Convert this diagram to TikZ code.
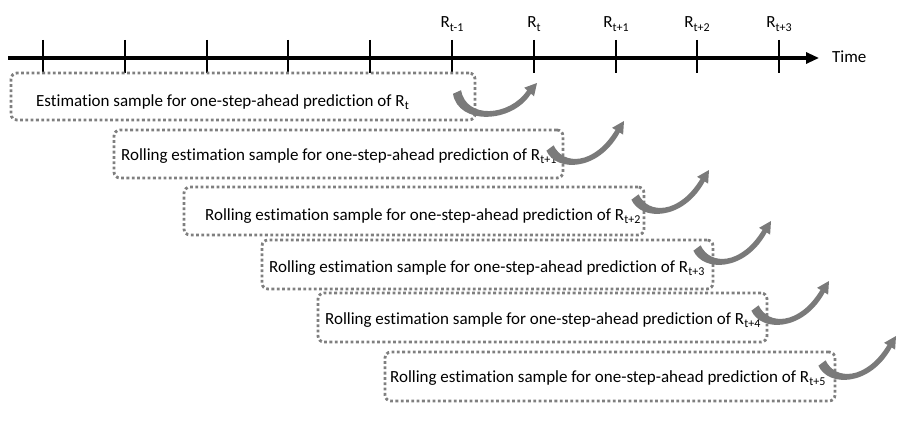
\documentclass[tikz,border=0pt]{standalone}
\usepackage{fontspec}
\setmainfont{Carlito}[Ligatures={NoCommon,NoContextual}]
\usetikzlibrary{arrows.meta}
\newcommand\subtxt[1]{\raisebox{-3.5pt}{\fontsize{12}{12}\selectfont #1}}
\definecolor{dotgray}{HTML}{7F7F7F}
\definecolor{arrgray}{HTML}{7A7A7A}
\begin{document}
\begin{tikzpicture}[x=1pt,y=-1pt,
  box/.style={draw=dotgray, line width=2.8pt, dash pattern=on 2.8pt off 2.5pt, rounded corners=6pt, inner sep=0pt},
  lbl/.style={font=\fontsize{17}{20}\selectfont, inner sep=0pt, anchor=base west},
  tickline/.style={line width=2pt},
  axisline/.style={line width=3pt, -{Triangle[length=13pt,width=11pt]}},
  rollarr/.pic={\fill[arrgray] (-3.6,-2.7) .. controls (6,-24) and (48,-24) .. (69.7,15.5) -- (73.1,13.4) -- (74,27) -- (62.1,20.2) -- (65.5,18.1) .. controls (44,-17.5) and (13,-17.5) .. (3.6,2.7) -- cycle;},
  firstarr/.pic={\fill[arrgray] (-4,-1.8) .. controls (1,-33) and (55,-32) .. (74,-1.65) -- (77,-4.3) -- (80,9) -- (67.2,4.3) -- (70.2,1.65) .. controls (52,-25) and (9,-27) .. (4,1.8) -- cycle;}]
\useasboundingbox (0,0) rectangle (901,420);

% time axis
\coordinate (ax0) at (8,58);
\coordinate (ax1) at (819,58);
\draw[axisline] (ax0) -- (ax1);
\foreach \i in {0,...,9} {
  \coordinate (tk\i) at ({43+81.8*\i},58);
  \draw[tickline] (tk\i) ++(0,-18) -- ++(0,33);
}
\node[lbl, anchor=base] (r1) at (452,28) {R\subtxt{t-1}};
\node[lbl, anchor=base] (r2) at (534,28) {R\subtxt{t}};
\node[lbl, anchor=base] (r3) at (616,28) {R\subtxt{t+1}};
\node[lbl, anchor=base] (r4) at (697,28) {R\subtxt{t+2}};
\node[lbl, anchor=base] (r5) at (779,28) {R\subtxt{t+3}};
\node[lbl] (time) at (832,63) {Time};

% boxes
\node[box, minimum width=464pt, minimum height=47pt] (b1) at (243,96.5) {};
\node[box, minimum width=449pt, minimum height=48pt] (b2) at (338.5,154) {};
\node[box, minimum width=460pt, minimum height=48pt] (b3) at (414,211) {};
\node[box, minimum width=451pt, minimum height=49pt] (b4) at (487.5,264.5) {};
\node[box, minimum width=449pt, minimum height=49pt] (b5) at (542.5,317.5) {};
\node[box, minimum width=450pt, minimum height=49pt] (b6) at (610,376.5) {};

\node[lbl] (t1) at (36,106) {Estimation sample for one-step-ahead prediction of R\subtxt{t}};
\node[lbl] (t2) at (121,160) {Rolling estimation sample for one-step-ahead prediction of R\subtxt{t+1}};
\node[lbl] (t3) at (205,220) {Rolling estimation sample for one-step-ahead prediction of R\subtxt{t+2}};
\node[lbl] (t4) at (269,272) {Rolling estimation sample for one-step-ahead prediction of R\subtxt{t+3}};
\node[lbl] (t5) at (325,324) {Rolling estimation sample for one-step-ahead prediction of R\subtxt{t+4}};
\node[lbl] (t6) at (390,382) {Rolling estimation sample for one-step-ahead prediction of R\subtxt{t+5}};

% curved arrows
\coordinate (a1) at (457,92);
\coordinate (a2) at (550,148);
\coordinate (a3) at (635,197);
\coordinate (a4) at (697,248);
\coordinate (a5) at (755,308);
\coordinate (a6) at (822,363);
\pic[yscale=-1] at (a1) {firstarr};
\foreach \k in {2,...,6} { \pic[yscale=-1] at (a\k) {rollarr}; }
\end{tikzpicture}
\end{document}
